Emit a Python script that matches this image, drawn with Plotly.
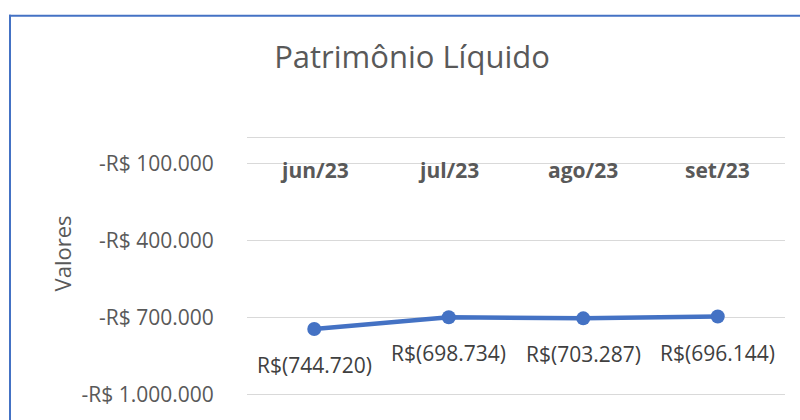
import plotly.graph_objects as go

categories = ["jun/23", "jul/23", "ago/23", "set/23"]
values = [-744720, -698734, -703287, -696144]
value_labels = ["R$(744.720)", "R$(698.734)", "R$(703.287)", "R$(696.144)"]
tick_values = [-100000, -400000, -700000, -1000000]
tick_labels = ["-R$ 100.000", "-R$ 400.000", "-R$ 700.000", "-R$ 1.000.000"]

FONT = "Open Sans"
FW, FH = 800, 420
Y_MIN, Y_MAX = -1010000, 0
L, T = 247, 138
R, B = FW - 785, FH - (398 + 2.6)
W, H = FW - L - R, FH - T - B


def px_x(p):
    return (p - L) / W


def px_y(p):
    return (FH - B - p) / H


fig = go.Figure()
fig.add_trace(go.Scatter(
    x=categories, y=values, mode="lines+markers",
    line=dict(color="#4472C4", width=4.5),
    marker=dict(color="#4472C4", size=14),
    hoverinfo="skip", showlegend=False,
))

for c, v, t in zip(categories, values, value_labels):
    fig.add_annotation(x=c, y=v, text=t, showarrow=False, yshift=-36,
                       xanchor="center", yanchor="middle",
                       font=dict(family=FONT, size=21, color="#404040"))

for c in categories:
    fig.add_annotation(x=c, xref="x", y=1, yref="paper", text="<b>%s</b>" % c,
                       showarrow=False, yshift=-32, xanchor="center", yanchor="middle",
                       font=dict(family=FONT, size=21, color="#595959"))

fig.add_annotation(xref="paper", yref="paper", x=px_x(62), y=px_y(255),
                   xanchor="center", yanchor="middle",
                   text="Valores", textangle=-90, showarrow=False,
                   font=dict(family=FONT, size=22, color="#595959"))

# chart-area border (top and left edges are the visible ones)
fig.add_shape(type="line", xref="paper", yref="paper",
              x0=px_x(9), x1=px_x(830), y0=px_y(14), y1=px_y(14),
              line=dict(color="#4472C4", width=2))
fig.add_shape(type="line", xref="paper", yref="paper",
              x0=px_x(10), x1=px_x(10), y0=px_y(13), y1=px_y(440),
              line=dict(color="#4472C4", width=2))

fig.update_layout(
    width=FW, height=FH,
    margin=dict(l=L, r=R, t=T, b=B, pad=0),
    paper_bgcolor="white", plot_bgcolor="white",
    hovermode=False, dragmode=False,
    title=dict(text="Patrimônio Líquido", x=412 / FW, xanchor="center",
               y=1 - 57 / FH, yanchor="middle",
               font=dict(family=FONT, size=31, color="#595959")),
    xaxis=dict(side="top", showgrid=False, showline=True, linecolor="#D9D9D9",
               linewidth=1.3, ticks="", showticklabels=False,
               range=[-0.5, 3.5]),
    yaxis=dict(range=[Y_MIN, Y_MAX], tickvals=tick_values, ticktext=tick_labels,
               showgrid=True, gridcolor="#D9D9D9", gridwidth=1.3,
               zeroline=False, showline=False,
               ticks="outside", ticklen=28, tickcolor="rgba(0,0,0,0)",
               tickfont=dict(family=FONT, size=21, color="#595959")),
)

fig.write_html(
    "out.html",
    config={"displayModeBar": False, "staticPlot": True},
    post_script=("document.body.style.margin='0';"
                 "document.documentElement.style.overflow='hidden';"
                 "document.body.style.overflow='hidden';"),
)
